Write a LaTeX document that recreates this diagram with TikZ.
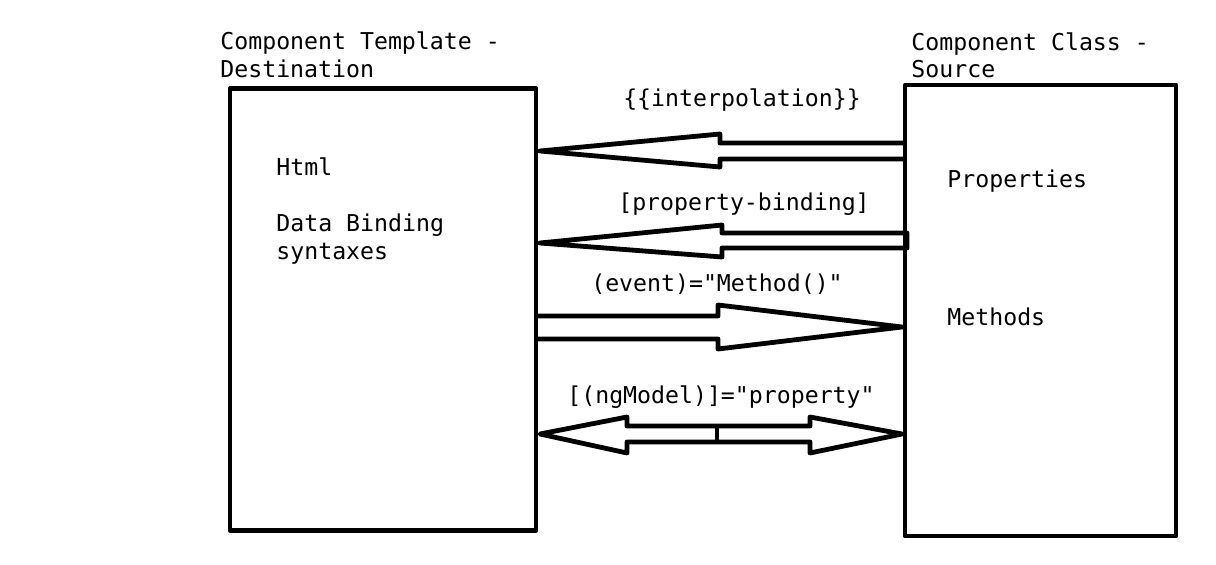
\documentclass[tikz,border=0pt]{standalone}
\usepackage{fontspec}
\setmonofont{DejaVu Sans Mono}
\usepackage{tikz}

\begin{document}
\begin{tikzpicture}
	[x=0.025cm,y=-0.025cm,line width=0.12cm,line join=round,
	every node/.style={font=\ttfamily\fontsize{16.5}{19.5}\selectfont},
	box/.style={draw,rectangle,inner sep=0pt},
	lbl/.style={anchor=base west,inner sep=0pt}]
	\useasboundingbox (0,0) rectangle (1216,565);
	
	\node[box,minimum width=0.025cm*306,minimum height=0.025cm*442] (tmpl) at (383,309.5) {};
	\node[box,minimum width=0.025cm*271,minimum height=0.025cm*451] (cls) at (1040.5,310.5) {};
	
	\node[lbl,align=left] (tmplname) at (218,77) {Component Template -\\Destination};
	\node[lbl,align=left] (clsname) at (909,78) {Component Class -\\Source};
	
	\node[lbl] (html) at (274,175) {Html};
	\node[lbl,align=left] (syntax) at (274,259) {Data Binding\\syntaxes};
	\node[lbl] (props) at (945,187) {Properties};
	\node[lbl] (meths) at (945,325) {Methods};
	
	\node[anchor=base,inner sep=0pt] (interp) at (742,107) {\{\{interpolation\}\}};
	\node[anchor=base,inner sep=0pt] (propbind) at (744,210) {[property-binding]};
	\node[anchor=base,inner sep=0pt] (event) at (717,291) {(event)="Method()"};
	\node[anchor=base,inner sep=0pt] (ngmodel) at (721,403) {[(ngModel)]="property"};
	
	% block arrows between the two boxes
	\draw (903,143) -- (720,143) -- (720,134) -- (540,151) -- (720,167) -- (720,159) -- (903,159);
	\draw (907,233) -- (722,233) -- (722,225) -- (540,243) -- (722,257) -- (722,248) -- (907,248) -- cycle;
	\draw (538,316) -- (718,316) -- (718,305) -- (902,327) -- (718,349) -- (718,339) -- (538,339);
	\draw (627,426) -- (627,417) -- (540,434) -- (627,453) -- (627,442) -- (810,442) -- (810,453)
		-- (902,434) -- (810,417) -- (810,426) -- cycle;
	\draw (717,426) -- (717,442);
\end{tikzpicture}
\end{document}
